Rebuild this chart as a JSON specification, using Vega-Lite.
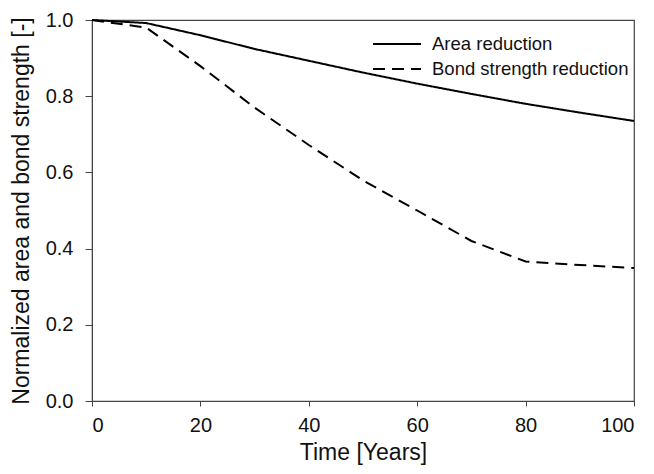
{
  "$schema": "https://vega.github.io/schema/vega-lite/v6.json",
  "width": 542,
  "height": 381,
  "autosize": {"type": "none"},
  "padding": {"left": 92, "top": 20, "right": 20, "bottom": 73},
  "background": "white",
  "config": {
    "font": "Liberation Sans",
    "view": {"stroke": "#444", "strokeWidth": 1.2},
    "axis": {"grid": false, "domainColor": "#444", "tickColor": "#444", "labelColor": "#111", "titleColor": "#111", "labelFontSize": 20, "titleFontSize": 23, "titleFontWeight": "normal"}
  },
  "data": {
    "values": [
      {"t": 0, "v": 1.0, "s": "Area reduction"},
      {"t": 10, "v": 0.992, "s": "Area reduction"},
      {"t": 20, "v": 0.96, "s": "Area reduction"},
      {"t": 30, "v": 0.924, "s": "Area reduction"},
      {"t": 40, "v": 0.893, "s": "Area reduction"},
      {"t": 50, "v": 0.862, "s": "Area reduction"},
      {"t": 60, "v": 0.833, "s": "Area reduction"},
      {"t": 70, "v": 0.806, "s": "Area reduction"},
      {"t": 80, "v": 0.78, "s": "Area reduction"},
      {"t": 90, "v": 0.757, "s": "Area reduction"},
      {"t": 100, "v": 0.735, "s": "Area reduction"},
      {"t": 0, "v": 1.0, "s": "Bond strength reduction"},
      {"t": 10, "v": 0.98, "s": "Bond strength reduction"},
      {"t": 20, "v": 0.879, "s": "Bond strength reduction"},
      {"t": 30, "v": 0.77, "s": "Bond strength reduction"},
      {"t": 40, "v": 0.672, "s": "Bond strength reduction"},
      {"t": 50, "v": 0.579, "s": "Bond strength reduction"},
      {"t": 60, "v": 0.5, "s": "Bond strength reduction"},
      {"t": 70, "v": 0.42, "s": "Bond strength reduction"},
      {"t": 80, "v": 0.366, "s": "Bond strength reduction"},
      {"t": 90, "v": 0.357, "s": "Bond strength reduction"},
      {"t": 100, "v": 0.349, "s": "Bond strength reduction"}
    ]
  },
  "mark": {"type": "line", "color": "black", "strokeWidth": 2},
  "encoding": {
    "x": {"field": "t", "type": "quantitative", "title": "Time [Years]", "scale": {"domain": [0, 100], "nice": false}, "axis": {"values": [0, 20, 40, 60, 80, 100], "tickSize": 5, "labelPadding": 9, "titlePadding": 6}},
    "y": {"field": "v", "type": "quantitative", "title": "Normalized area and bond strength [-]", "scale": {"domain": [0, 1], "nice": false}, "axis": {"values": [0, 0.2, 0.4, 0.6, 0.8, 1.0], "format": ".1f", "tickSize": 7, "labelPadding": 12, "titlePadding": 12}},
    "strokeDash": {
      "field": "s", "type": "nominal",
      "scale": {"domain": ["Area reduction", "Bond strength reduction"], "range": [[1, 0], [12, 7]]},
      "legend": {"title": null, "orient": "none", "legendX": 294, "legendY": 13, "symbolType": "M-2.4,0H2.4", "symbolSize": 400, "symbolStrokeWidth": 2, "symbolStrokeColor": "black", "labelFontSize": 18.5, "labelColor": "#111", "labelOffset": 24, "labelLimit": 400, "rowPadding": 4}
    }
  }
}
